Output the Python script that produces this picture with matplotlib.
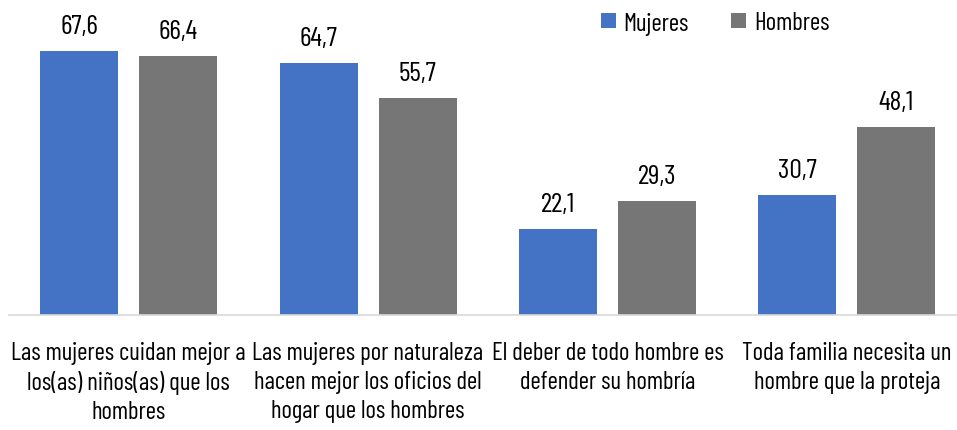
import numpy as np
import matplotlib.pyplot as plt
from matplotlib import font_manager as fm

disponibles = set(f.name for f in fm.fontManager.ttflist)
candidatas = ['Barlow Condensed', 'Asap Condensed', 'Archivo Narrow', 'Fira Sans Condensed']
fuente = next((c for c in candidatas if c in disponibles), 'DejaVu Sans')
plt.rcParams['font.family'] = [fuente, 'DejaVu Sans']

categorias = ['Las mujeres cuidan mejor a\nlos(as) niños(as) que los\nhombres',
              'Las mujeres por naturaleza\nhacen mejor los oficios del\nhogar que los hombres',
              'El deber de todo hombre es\ndefender su hombría',
              'Toda familia necesita un\nhombre que la proteja']
mujeres = [67.6, 64.7, 22.1, 30.7]
hombres = [66.4, 55.7, 29.3, 48.1]

azul = '#4472C4'
gris = '#767676'

fig = plt.figure(figsize=(9.57, 4.31), dpi=100)
ax = fig.add_axes([8.75/957, 1-316/431, 958/957, 316/431])

xs = np.arange(len(categorias))
w = 78/239.5
gap = 21/239.5
b1 = ax.bar(xs - (w+gap)/2, mujeres, w, color=azul, label='Mujeres')
b2 = ax.bar(xs + (w+gap)/2, hombres, w, color=gris, label='Hombres')

for bars, vals in ((b1, mujeres), (b2, hombres)):
    for b, v in zip(bars, vals):
        ax.text(b.get_x()+b.get_width()/2, v+4.6, f'{v:.1f}'.replace('.', ','),
                ha='center', va='baseline', fontsize=20)

ax.set_xlim(-0.5, 3.5)
ax.set_ylim(0, 81)
ax.set_yticks([])
ax.set_xticks(xs)
ax.set_xticklabels(categorias, fontsize=18, linespacing=1.32)
ax.tick_params(axis='x', length=0, pad=19)
for s in ['top', 'right', 'left']:
    ax.spines[s].set_visible(False)
ax.spines['bottom'].set_color('#D9D9D9')
ax.spines['bottom'].set_linewidth(1.2)

leg = fig.legend(loc='center left', bbox_to_anchor=(601/957, 1-24/431), ncol=2, frameon=False,
                 fontsize=18, handlelength=0.58, handleheight=0.58, columnspacing=1.7,
                 handletextpad=0.32, borderpad=0, borderaxespad=0)

fig.savefig('out.png', dpi=100)
